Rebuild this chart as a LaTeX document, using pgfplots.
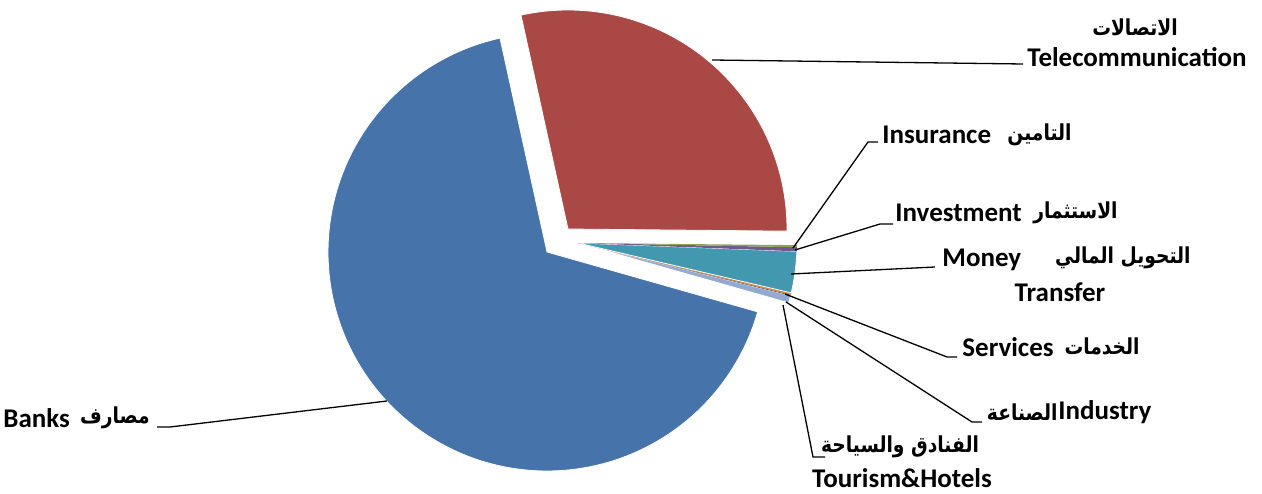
\documentclass[border=0pt]{standalone}
\usepackage{fontspec}
\setmainfont{Carlito}
\newfontfamily\arabicfont[Script=Arabic, FakeStretch=0.85]{DejaVu Sans}
\TeXXeTstate=1
\usepackage{pgfplots}
\usepackage{pgfplotstable}
\pgfplotsset{compat=1.18}

\definecolor{cbanks}{RGB}{70,116,170}
\definecolor{ctele}{RGB}{170,72,69}
\definecolor{cins}{RGB}{137,165,78}
\definecolor{cinv}{RGB}{113,88,143}
\definecolor{cmoney}{RGB}{65,152,175}
\definecolor{cserv}{RGB}{218,129,55}
\definecolor{cind}{RGB}{44,77,117}
\definecolor{ctour}{RGB}{147,169,207}

% share in percent, counter-clockwise from the banks slice
\pgfplotstableread{
name       value
Banks      67.15
Tourism    0.55
Industry   0.05
Services   0.15
Money      3.05
Investment 0.30
Insurance  0.15
Telecom    28.60
}\piedata

\newcommand\lat{\bfseries\fontsize{13.5}{15}\selectfont}
\newcommand\ara{\arabicfont\bfseries\fontsize{11}{13}\selectfont}

\begin{document}
\begin{tikzpicture}
% cumulative angles
\pgfmathsetmacro\sA{102.4}
\pgfplotstablegetelem{0}{value}\of\piedata \pgfmathsetmacro\eA{\sA+3.6*\pgfplotsretval}
\pgfplotstablegetelem{1}{value}\of\piedata \pgfmathsetmacro\eB{\eA+3.6*\pgfplotsretval}
\pgfplotstablegetelem{2}{value}\of\piedata \pgfmathsetmacro\eC{\eB+3.6*\pgfplotsretval}
\pgfplotstablegetelem{3}{value}\of\piedata \pgfmathsetmacro\eD{\eC+3.6*\pgfplotsretval}
\pgfplotstablegetelem{4}{value}\of\piedata \pgfmathsetmacro\eE{\eD+3.6*\pgfplotsretval}
\pgfplotstablegetelem{5}{value}\of\piedata \pgfmathsetmacro\eF{\eE+3.6*\pgfplotsretval}
\pgfplotstablegetelem{6}{value}\of\piedata \pgfmathsetmacro\eG{\eF+3.6*\pgfplotsretval}
\pgfplotstablegetelem{7}{value}\of\piedata \pgfmathsetmacro\eH{\eG+3.6*\pgfplotsretval}
\begin{axis}[
    hide axis,
    scale only axis,
    width=631pt, height=246.5pt,
    xmin=0, xmax=1262, ymin=0, ymax=493,
    clip=false,
    every axis plot/.append style={line width=0.4pt},
    leader/.style={black, solid, mark=none, line width=0.65pt},
]
% slices (radius 219, each with its own explosion)
\addplot[fill=cbanks, draw=white, domain=\sA:\eA, samples=120] ({547+219*cos(x)}, {241+219*sin(x)}) -- (axis cs:547,241) -- cycle;
\addplot[fill=ctour, draw=white, domain=\eA:\eB, samples=5] ({578+219*cos(x)}, {250+219*sin(x)}) -- (axis cs:578,250) -- cycle;
\addplot[fill=cind, draw=none, domain=\eB:\eC, samples=3] ({578+219*cos(x)}, {250+219*sin(x)}) -- (axis cs:578,250) -- cycle;
\addplot[fill=cserv, draw=none, domain=\eC:\eD, samples=3] ({578+219*cos(x)}, {250+219*sin(x)}) -- (axis cs:578,250) -- cycle;
\addplot[fill=cmoney, draw=white, domain=\eD:\eE, samples=10] ({578+219*cos(x)}, {250+219*sin(x)}) -- (axis cs:578,250) -- cycle;
\addplot[fill=cinv, draw=none, domain=\eE:\eF, samples=3] ({578+219*cos(x)}, {250+219*sin(x)}) -- (axis cs:578,250) -- cycle;
\addplot[fill=cins, draw=none, domain=\eF:\eG, samples=3] ({578+219*cos(x)}, {250+219*sin(x)}) -- (axis cs:578,250) -- cycle;
\addplot[fill=ctele, draw=white, domain=\eG:\eH, samples=80] ({568+219*cos(x)}, {264+219*sin(x)}) -- (axis cs:568,264) -- cycle;

% leader lines
\addplot[leader] coordinates {(712,433) (1023,429)};
\addplot[leader] coordinates {(793,245) (868,351) (878,351)};
\addplot[leader] coordinates {(795,243) (880,269) (893,269)};
\addplot[leader] coordinates {(791,219) (935,226)};
\addplot[leader] coordinates {(785,199) (947,136) (957,136)};
\addplot[leader] coordinates {(786,191) (972,71) (982,71)};
\addplot[leader] coordinates {(783,188) (813,36) (825,36)};
\addplot[leader] coordinates {(387,92) (170,66) (157,66)};

% labels
\node[font=\ara] at (axis cs:1135,466) {\beginR الاتصالات\endR};
\node[font=\lat] at (axis cs:1137,436) {Telecommunication};
\node[font=\lat, anchor=west, inner sep=0pt] at (axis cs:882,358) {Insurance};
\node[font=\ara, anchor=east, inner sep=0pt] at (axis cs:1072,358) {\beginR التامين\endR};
\node[font=\lat, anchor=west, inner sep=0pt] at (axis cs:895,280) {Investment};
\node[font=\ara, anchor=east, inner sep=0pt] at (axis cs:1118,280) {\beginR الاستثمار\endR};
\node[font=\lat, anchor=west, inner sep=0pt] at (axis cs:942,233) {Money};
\node[font=\ara, anchor=east, inner sep=0pt] at (axis cs:1191,235) {\beginR التحويل المالي\endR};
\node[font=\lat] at (axis cs:1060,201) {Transfer};
\node[font=\lat, anchor=west, inner sep=0pt] at (axis cs:962,146) {Services};
\node[font=\ara, anchor=east, inner sep=0pt] at (axis cs:1140,147) {\beginR الخدمات\endR};
\node[font=\ara, anchor=east, inner sep=0pt] at (axis cs:1058,81) {\beginR الصناعة\endR};
\node[font=\lat, anchor=west, inner sep=0pt] at (axis cs:1058,81) {Industry};
\node[font=\ara] at (axis cs:900,46) {\beginR الفنادق والسياحة\endR};
\node[font=\lat] at (axis cs:902,15) {Tourism\&Hotels};
\node[font=\lat, anchor=west, inner sep=0pt] at (axis cs:3,75) {Banks};
\node[font=\ara, anchor=east, inner sep=0pt] at (axis cs:150,75) {\beginR مصارف\endR};
\end{axis}
\pgfresetboundingbox
\path (current axis.south west) rectangle (current axis.north east);
\end{tikzpicture}
\end{document}
